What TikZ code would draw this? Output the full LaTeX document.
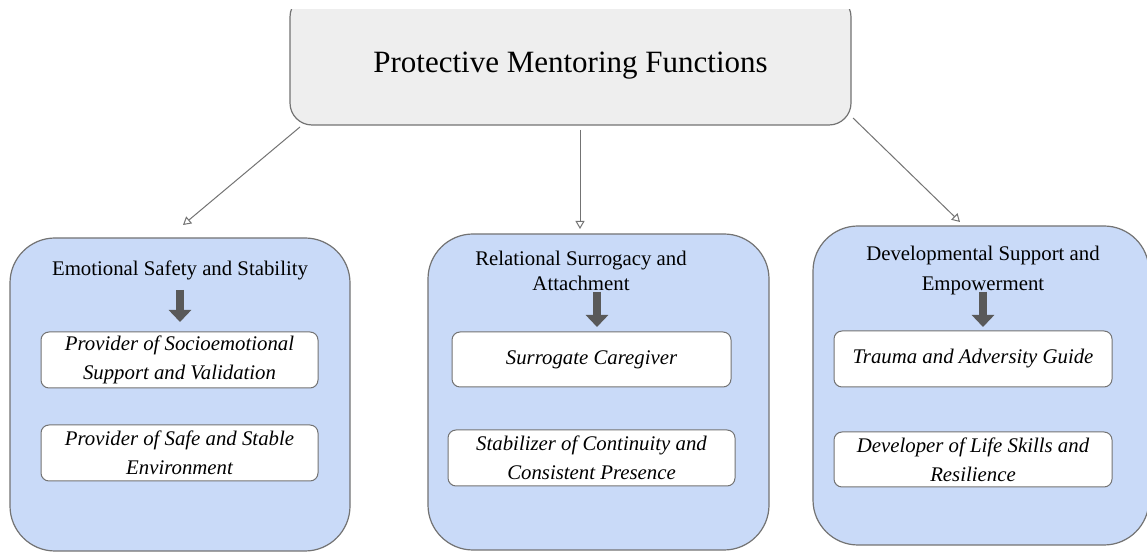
\documentclass[tikz,border=0pt]{standalone}
\usepackage{fontspec}
\setmainfont{Liberation Serif}
\usetikzlibrary{arrows.meta,calc}
\definecolor{topfill}{HTML}{EEEEEE}
\definecolor{bluefill}{HTML}{C9DAF8}
\definecolor{edgegray}{HTML}{737373}
\definecolor{arrowgray}{HTML}{595959}
\begin{document}
\begin{tikzpicture}[x=1pt,y=1pt,
 topbox/.style={draw=edgegray, fill=topfill, line width=1.2pt, rounded corners=22pt, minimum width=561pt, minimum height=130pt, inner sep=0pt, text height=32pt, text depth=7pt, font=\fontsize{31}{36}\selectfont},
 groupbox/.style={draw=edgegray, fill=bluefill, line width=1.2pt, rounded corners=45pt, inner sep=0pt},
 itembox/.style={draw=edgegray, fill=white, line width=1pt, rounded corners=8pt, font=\fontsize{20.8}{29}\selectfont\itshape, align=center, inner sep=0pt},
 grouptitle/.style={font=\fontsize{20.8}{25}\selectfont, align=center, inner sep=0pt},
 thinarrow/.style={draw=edgegray, line width=1pt, -{Triangle[open,width=9pt,length=8pt]}},
 bigarrow/.style={draw=arrowgray, line width=8pt, -{Triangle[width=22pt,length=12pt]}}
]
\useasboundingbox (0,0) rectangle (1147,553);
\fill[white] (0,0) rectangle (1147,553);
\begin{scope}
\clip (0,0) rectangle (1147,543);
\node[topbox] (top) at (570.5,493) {Protective Mentoring Functions};
\end{scope}

% group boxes
\node[groupbox, minimum width=340pt, minimum height=313pt] (gl) at (180,158.5) {};
\node[groupbox, minimum width=341pt, minimum height=316pt] (gm) at (598.5,161) {};
\node[groupbox, minimum width=336pt, minimum height=319pt] (gr) at (981,167.5) {};

% titles
\node[grouptitle] (tl) at (180,283) {Emotional Safety and Stability};
\node[grouptitle] (tm) at (581,282) {Relational Surrogacy and\\Attachment};
\node[grouptitle, font=\fontsize{20.8}{29.5}\selectfont] (tr) at (983,282.5) {Developmental Support and\\Empowerment};

% items
\node[itembox, minimum width=277pt, minimum height=56pt] (l1) at (179.5,193) {Provider of Socioemotional\\Support and Validation};
\node[itembox, minimum width=277pt, minimum height=56pt] (l2) at (179.5,100) {Provider of Safe and Stable\\Environment};
\node[itembox, minimum width=279pt, minimum height=55pt] (m1) at (591.5,193.5) {Surrogate Caregiver};
\node[itembox, minimum width=287pt, minimum height=56pt] (m2) at (591.5,95) {Stabilizer of Continuity and\\Consistent Presence};
\node[itembox, minimum width=278pt, minimum height=56pt] (r1) at (973,194) {Trauma and Adversity Guide};
\node[itembox, minimum width=278pt, minimum height=55pt] (r2) at (973,93.5) {Developer of Life Skills and\\Resilience};

% thick arrows
\coordinate (la) at (180,263); \coordinate (lb) at (180,231);
\coordinate (ma) at (597,261); \coordinate (mb) at (597,226);
\coordinate (ra) at (983,261); \coordinate (rb) at (983,226);
\draw[bigarrow] (la) -- (lb);
\draw[bigarrow] (ma) -- (mb);
\draw[bigarrow] (ra) -- (rb);

% thin arrows
\coordinate (s1) at (300,426); \coordinate (e1) at (183,328);
\coordinate (s2) at (580,423); \coordinate (e2) at (580,324);
\coordinate (s3) at (853,435); \coordinate (e3) at (960,331);
\draw[thinarrow] (s1) -- (e1);
\draw[thinarrow] (s2) -- (e2);
\draw[thinarrow] (s3) -- (e3);
\end{tikzpicture}
\end{document}
